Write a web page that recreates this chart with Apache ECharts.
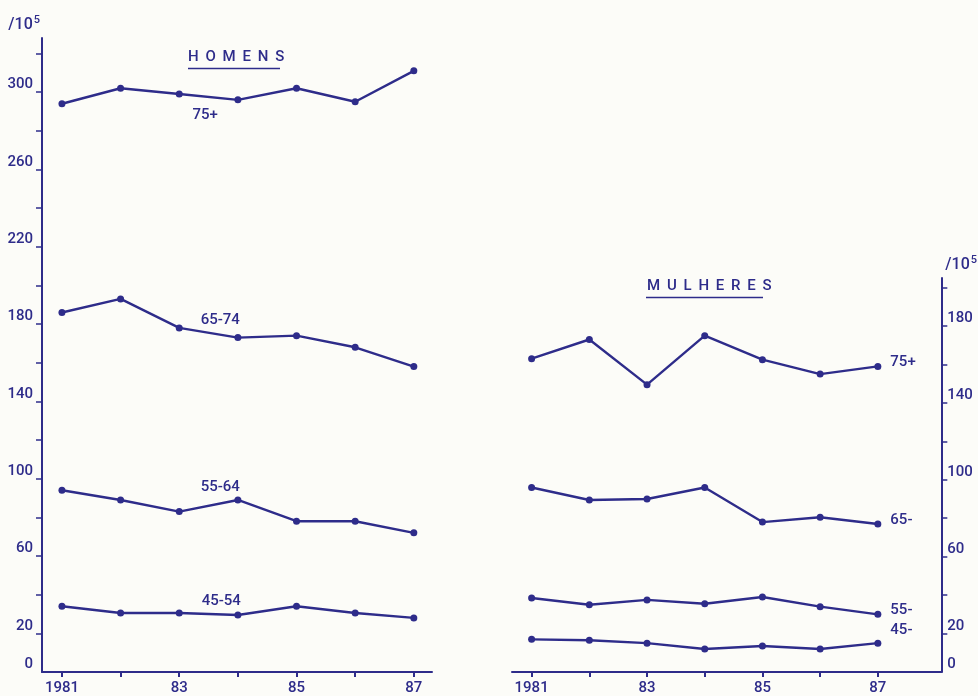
<!DOCTYPE html>
<html><head><meta charset="utf-8">
<script src="https://cdn.jsdelivr.net/npm/echarts@6/dist/echarts.min.js"></script>
<style>html,body{margin:0;padding:0;background:#fcfcf8}#c{width:978px;height:696px}</style>
</head><body><div id="c"></div>
<script>
// ---- data ----
const years = [1981, 1982, 1983, 1984, 1985, 1986, 1987];
const xLabelYears = [1981, 1983, 1985, 1987];

const menAges = ['75+', '65-74', '55-64', '45-54'];
const men75 = [294, 302, 299, 296, 302, 295, 311];
const men65 = [186, 193, 178, 173, 174, 168, 158];
const men55 = [94, 89, 83, 89, 78, 78, 72];
const men45 = [34, 30.5, 30.5, 29.5, 34, 30.5, 28];

const womenAges = ['75+', '65-', '55-', '45-'];
const women75 = [163, 173, 149.5, 175, 162.5, 155, 159];
const women65 = [96, 89.5, 90, 96, 78, 80.5, 77];
const women55 = [38.5, 35, 37.5, 35.5, 39, 34, 30];
const women45 = [17, 16.5, 15, 12, 13.5, 12, 15];

const menYLabels = [0, 20, 60, 100, 140, 180, 220, 260, 300];
const menYTicks = [20, 40, 60, 80, 100, 120, 140, 160, 180, 200, 220, 240, 260, 280, 300, 320];
const womenYLabels = [0, 20, 60, 100, 140, 180];
const womenYTicks = [20, 40, 60, 80, 100, 120, 140, 160, 180, 200];

// ---- style ----
const INK = '#2e2c8a';
const FONT = 'Roboto';
const FW = 500;

function pairs(vals) { return vals.map((v, i) => [years[i], v]); }

function menSeries(vals, name, offset) {
  const data = pairs(vals).map((p, i) => i === 2 ? {
    value: p,
    label: { show: true, position: 'inside', formatter: name, offset: offset,
             color: INK, fontSize: 15, fontWeight: FW, fontFamily: FONT }
  } : p);
  return { type: 'line', name: name, xAxisIndex: 0, yAxisIndex: 0, data: data,
           symbol: 'circle', symbolSize: 7, lineStyle: { color: INK, width: 2.4 },
           itemStyle: { color: INK }, silent: true, animation: false };
}
function womenSeries(vals, name, dy) {
  const last = vals.length - 1;
  const data = pairs(vals).map((p, i) => i === last ? {
    value: p,
    label: { show: true, position: 'right', distance: 9, formatter: name, offset: [0, dy],
             color: INK, fontSize: 15, fontWeight: FW, fontFamily: FONT }
  } : p);
  return { type: 'line', name: name, xAxisIndex: 1, yAxisIndex: 1, data: data,
           symbol: 'circle', symbolSize: 7, lineStyle: { color: INK, width: 2.4 },
           itemStyle: { color: INK }, silent: true, animation: false };
}

function xAxis(idx, max) {
  return {
    type: 'value', gridIndex: idx, min: 1980.66, max: max,
    axisLine: { show: true, onZero: false, lineStyle: { color: INK, width: 2 } },
    axisTick: { show: true, customValues: years, length: 5, lineStyle: { color: INK, width: 2 } },
    axisLabel: { customValues: xLabelYears, margin: 9, color: INK, fontSize: 15, fontWeight: FW,
                 fontFamily: FONT, formatter: v => v === 1981 ? '1981' : String(v).slice(2) },
    splitLine: { show: false }
  };
}
function yAxis(idx, max, pos, labels, ticks, margin) {
  const nameStyle = {
    color: INK, fontSize: 16, fontWeight: FW, fontFamily: FONT,
    rich: { s: { fontSize: 11, fontWeight: FW, fontFamily: FONT, color: INK, verticalAlign: 'top', padding: [0, 0, 8, 1] } }
  };
  if (pos === 'left') { nameStyle.align = 'right'; nameStyle.padding = [0, 2, 0, 0]; }
  else { nameStyle.align = 'left'; nameStyle.padding = [0, 0, 0, 4]; }
  return {
    type: 'value', gridIndex: idx, min: 0, max: max, position: pos,
    name: '/10{s|5}', nameLocation: 'end', nameGap: 4, nameTextStyle: nameStyle,
    axisLine: { show: true, onZero: false, lineStyle: { color: INK, width: 2 } },
    axisTick: { show: true, customValues: ticks, length: 6, lineStyle: { color: INK, width: 1.5 } },
    axisLabel: { customValues: labels, margin: margin, verticalAlign: 'bottom',
                 color: INK, fontSize: 15, fontWeight: FW, fontFamily: FONT },
    splitLine: { show: false }
  };
}

const GAP = ' \u2009';
const chart = echarts.init(document.getElementById('c'));
chart.setOption({
  backgroundColor: '#fcfcf8',
  animation: false,
  textStyle: { fontFamily: FONT },
  grid: [
    { left: 42, right: 546, top: 38, bottom: 24 },
    { left: 512, right: 27, top: 278, bottom: 21 }
  ],
  xAxis: [xAxis(0, 1987.31), xAxis(1, 1988.1)],
  yAxis: [
    yAxis(0, 328, 'left', menYLabels, menYTicks, 9),
    yAxis(1, 205, 'right', womenYLabels, womenYTicks, 6)
  ],
  graphic: [
    { type: 'text', left: 188, top: 50,
      style: { text: 'HOMENS'.split('').join(GAP), fill: INK, fontSize: 15, fontWeight: FW, fontFamily: FONT } },
    { type: 'line', shape: { x1: 188, y1: 68.5, x2: 280, y2: 68.5 },
      style: { stroke: INK, lineWidth: 1.5 } },
    { type: 'text', left: 647, top: 279,
      style: { text: 'MULHERES'.split('').join(GAP), fill: INK, fontSize: 15, fontWeight: FW, fontFamily: FONT } },
    { type: 'line', shape: { x1: 646, y1: 297.5, x2: 763, y2: 297.5 },
      style: { stroke: INK, lineWidth: 1.5 } }
  ],
  series: [
    menSeries(men75, menAges[0], [26, 21]),
    menSeries(men65, menAges[1], [41, -8]),
    menSeries(men55, menAges[2], [41, -24]),
    menSeries(men45, menAges[3], [42, -12]),
    womenSeries(women75, womenAges[0], -4),
    womenSeries(women65, womenAges[1], -4),
    womenSeries(women55, womenAges[2], -4),
    womenSeries(women45, womenAges[3], -13)
  ]
});
</script></body></html>
